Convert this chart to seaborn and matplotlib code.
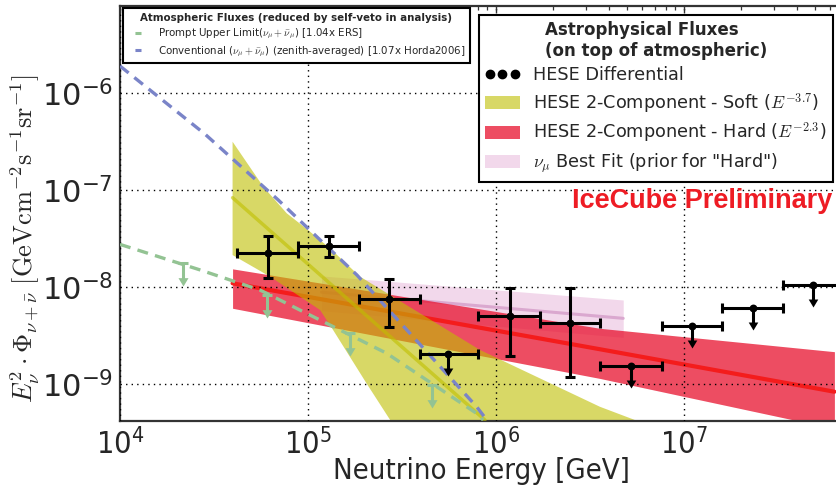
import numpy as np
import pandas as pd
import matplotlib
matplotlib.use("Agg")
import matplotlib.pyplot as plt
import seaborn as sns
from matplotlib.lines import Line2D
from matplotlib.patches import Patch
from matplotlib.path import Path
from matplotlib.font_manager import FontProperties

# ---------------- data ----------------
# HESE differential unfolding (energy bins in GeV, E^2 flux in GeV cm^-2 s^-1 sr^-1)
bin_lo = [4.18e4, 8.88e4, 1.86e5, 3.94e5, 8.05e5, 1.71e6, 3.57e6, 7.61e6, 1.59e7, 3.37e7]
bin_hi = [8.88e4, 1.86e5, 3.94e5, 8.05e5, 1.71e6, 3.57e6, 7.61e6, 1.59e7, 3.37e7, 7.08e7]
bin_center = [6.1e4, 1.29e5, 2.71e5, 5.57e5, 1.18e6, 2.48e6, 5.22e6, 1.10e7, 2.32e7, 4.88e7]
flux = [2.24e-8, 2.69e-8, 7.57e-9, 2.04e-9, 5.12e-9, 4.32e-9, 1.55e-9, 4.02e-9, 6.17e-9, 1.06e-8]
flux_hi = [3.40e-8, 3.40e-8, 1.22e-8, np.nan, 9.77e-9, 9.77e-9, np.nan, np.nan, np.nan, np.nan]
flux_lo = [1.24e-8, 2.07e-8, 3.87e-9, np.nan, 1.96e-9, 1.20e-9, np.nan, np.nan, np.nan, np.nan]
upper_limit = [False, False, False, True, False, False, True, True, True, True]

# Conventional atmospheric (blue dashed)
conv_E = [1.0e4, 2.83e4, 6.95e4, 1.82e5, 7.89e5, 8.93e5]
conv_flux = [1.91e-6, 3.80e-7, 7.94e-8, 1.34e-8, 5.87e-10, 4.29e-10]

# Prompt upper limit (green dashed) and its arrows
prompt_E = [1.0e4, 2.67e4, 5.56e4, 9.06e4, 2.62e5, 7.88e5, 8.55e5]
prompt_flux = [2.77e-8, 1.51e-8, 9.37e-9, 5.83e-9, 2.09e-9, 5.02e-10, 4.29e-10]
prompt_arrow_E = [2.16e4, 6.03e4, 1.67e5, 4.55e5]
prompt_arrow_flux = [1.77e-8, 8.34e-9, 3.36e-9, 9.84e-10]

# Soft component (E^-3.7) band and best fit
soft_up_E = [3.97e4, 5.78e4, 7.71e4, 1.00e5, 1.31e5, 1.89e5, 8.22e5, 3.57e6, 5.60e6]
soft_up_flux = [3.17e-7, 1.09e-7, 5.79e-8, 3.90e-8, 2.52e-8, 1.29e-8, 2.26e-9, 5.87e-10, 4.22e-10]
soft_lo_E = [3.97e4, 6.28e4, 1.16e5, 1.36e5, 2.05e5, 2.75e5]
soft_lo_flux = [2.15e-8, 1.29e-8, 5.83e-9, 3.63e-9, 1.02e-9, 4.22e-10]
soft_fit_E = [3.97e4, 8.73e5]
soft_fit_flux = [8.39e-8, 4.29e-10]

# Hard component (E^-2.3) band and best fit
hard_E = [3.97e4, 3.57e6, 6.31e7]
hard_up = [1.55e-8, 3.78e-9, 2.17e-9]
hard_fit = [1.10e-8, 2.30e-9, 8.39e-10]
hard_lo = [6.08e-9, 1.15e-9, 3.49e-10]

# nu_mu best fit band
numu_E = [1.18e5, 4.75e6]
numu_up = [1.31e-8, 7.40e-9]
numu_fit = [8.91e-9, 4.79e-9]
numu_lo = [5.75e-9, 3.05e-9]

x_ticks = [1e4, 1e5, 1e6, 1e7]
x_tick_labels = [r'$\mathdefault{10^{4}}$', r'$\mathdefault{10^{5}}$',
                 r'$\mathdefault{10^{6}}$', r'$\mathdefault{10^{7}}$']
y_ticks = [1e-9, 1e-8, 1e-7, 1e-6]

# ---------------- style ----------------
sns.set_style("white")
plt.rcParams['font.family'] = ['DejaVu Sans']

c_yellow = '#bfbf00'
c_red = '#e8112d'
c_pink = '#d67fbf'
c_blue = '#7a84c8'
c_green = '#93c393'

fig = plt.figure(figsize=(8.36, 4.94), dpi=100)
ax = fig.add_axes([120 / 836, 73.3 / 494, 752 / 836, 414.7 / 494])
ax.set_xscale('log')
ax.set_yscale('log')
ax.set_xlim(1e4, 1e8)
ax.set_ylim(10 ** -9.375, 10 ** -5.10)

# bands
ax.fill_between(numu_E, numu_lo, numu_up, color=c_pink, alpha=0.3, lw=0, zorder=1.0)
sns.lineplot(x=numu_E, y=numu_fit, ax=ax, color='#d49cc8', lw=2.2, alpha=0.8, zorder=1.05, estimator=None)
ax.fill_between(hard_E, hard_lo, hard_up, color=c_red, alpha=0.75, lw=0, zorder=1.1)
sns.lineplot(x=hard_E, y=hard_fit, ax=ax, color='#f41c1c', lw=3, zorder=1.15, estimator=None)
ax.fill(soft_up_E + soft_lo_E[::-1], soft_up_flux + soft_lo_flux[::-1],
        color=c_yellow, alpha=0.6, lw=0, zorder=1.2)
sns.lineplot(x=soft_fit_E, y=soft_fit_flux, ax=ax, color=c_yellow, alpha=0.6, lw=2.5,
             zorder=3.1, estimator=None)

# atmospheric
sns.lineplot(x=prompt_E, y=prompt_flux, ax=ax, color=c_green, lw=2.4,
             linestyle=(0, (3.3, 2.2)), zorder=3.3, estimator=None)
sns.lineplot(x=conv_E, y=conv_flux, ax=ax, color=c_blue, lw=2.4,
             linestyle=(0, (3.3, 2.2)), zorder=3.6, estimator=None)

arrow_marker = Path([(0, 0), (-0.6, 1.0), (0.6, 1.0), (0, 0)],
                    [Path.MOVETO, Path.LINETO, Path.LINETO, Path.CLOSEPOLY])

pa_E = np.array(prompt_arrow_E)
pa_f = np.array(prompt_arrow_flux)
pa_tip = pa_f * 10 ** -0.237
ax.vlines(pa_E, pa_tip * 10 ** 0.05, pa_f, colors=c_green, lw=2.2, zorder=3.4)
ax.plot(pa_E, pa_f, ls='none', marker='_', ms=7.5, mew=2.2, color=c_green, zorder=3.4)
ax.plot(pa_E, pa_tip, ls='none', marker=arrow_marker, ms=12, color=c_green, mew=0, zorder=3.4)

# HESE points
xc = np.array(bin_center)
lo = np.array(bin_lo)
hi = np.array(bin_hi)
f = np.array(flux)
fh = np.array(flux_hi)
fl = np.array(flux_lo)
ul = np.array(upper_limit)
m = ~ul
ax.errorbar(xc[m], f[m], xerr=[xc[m] - lo[m], hi[m] - xc[m]],
            yerr=[f[m] - fl[m], fh[m] - f[m]], fmt='none', ecolor='k',
            elinewidth=2.2, capsize=3.4, capthick=2.2, zorder=6)
ax.errorbar(xc[ul], f[ul], xerr=[xc[ul] - lo[ul], hi[ul] - xc[ul]], fmt='none',
            ecolor='k', elinewidth=2.2, capsize=3.4, capthick=2.2, zorder=6)
tips = f[ul] * 10 ** -0.227
ax.vlines(xc[ul], tips * 10 ** 0.05, f[ul], colors='k', lw=2.2, zorder=6)
ax.plot(xc[ul], tips, ls='none', marker=arrow_marker, ms=11.5, color='k', mew=0, zorder=6)
sns.scatterplot(x=xc, y=f, ax=ax, color='k', s=32, edgecolor='k', linewidth=0,
                zorder=7, legend=False)

# axes styling
ax.set_axisbelow(False)
ax.grid(True, which='major', color='k', ls=(0, (1, 3)), lw=1.0)
ax.grid(False, which='minor')
ax.set_xticks(x_ticks, labels=x_tick_labels, fontstretch='condensed', fontsize=22)
ax.set_yticks(y_ticks)
ax.tick_params(which='both', direction='in', top=True, right=True, color='#333333')
ax.tick_params(which='major', length=5, width=1.0, labelsize=22, pad=5)
ax.tick_params(which='minor', length=2.8, width=0.9)
for s in ax.spines.values():
    s.set_linewidth(1.6)
    s.set_color('#333333')
ax.set_xlabel('')
ax.set_ylabel('')

fig.text(481 / 836, 1 - 479 / 494, 'Neutrino Energy [GeV]', ha='center', va='baseline',
         fontsize=21, fontstretch='condensed')
fig.text(25 / 836, 1 - 239 / 494,
         r'$E_{\nu}^{2}\cdot\Phi_{\nu+\bar{\nu}}\ [\mathrm{GeV cm^{-2} s^{-1} sr^{-1}}]$',
         rotation=90, ha='center', va='center', fontsize=19, math_fontfamily='cm')

fig.text(832 / 836, 1 - 208 / 494, 'IceCube Preliminary', ha='right', va='baseline',
         fontsize=19.5, fontweight='bold', family='Liberation Sans', color='#ee1c24')

# legends
atm_handles = [Line2D([], [], color=c_green, lw=2.2, linestyle=(2.0, (2.0, 2.6))),
               Line2D([], [], color=c_blue, lw=2.2, linestyle=(2.0, (2.0, 2.6)))]
atm_labels = [r'Prompt Upper Limit($\nu_\mu+\bar{\nu}_\mu$) [1.04x ERS]',
              r'Conventional ($\nu_\mu+\bar{\nu}_\mu$) (zenith-averaged) [1.07x Horda2006]']
leg1 = ax.legend(atm_handles, atm_labels, loc='upper left',
                 bbox_to_anchor=(122.7 / 836, 1 - 8.3 / 494), bbox_transform=fig.transFigure,
                 borderaxespad=0, prop=FontProperties(size=7.4, math_fontfamily='cm'),
                 title='Atmospheric Fluxes (reduced by self-veto in analysis)',
                 title_fontproperties=FontProperties(size=7.4, weight='bold'),
                 handlelength=1.36, handletextpad=1.6, labelspacing=0.35,
                 borderpad=0.45, fancybox=False, framealpha=1, edgecolor='k')
leg1.get_frame().set_linewidth(1.5)
ax.add_artist(leg1)

astro_handles = [Line2D([], [], color='k', marker='o', ls='none', ms=6),
                 Patch(facecolor=c_yellow, alpha=0.6, edgecolor='none'),
                 Patch(facecolor=c_red, alpha=0.75, edgecolor='none'),
                 Patch(facecolor=c_pink, alpha=0.3, edgecolor='none')]
astro_labels = ['HESE Differential',
                r'HESE 2-Component - Soft ($E^{-3.7}$)',
                r'HESE 2-Component - Hard ($E^{-2.3}$)',
                r'$\nu_\mu$ Best Fit (prior for "Hard")']
leg2 = ax.legend(astro_handles, astro_labels, loc='upper right', numpoints=3,
                 bbox_to_anchor=(833 / 836, 1 - 15 / 494), bbox_transform=fig.transFigure,
                 borderaxespad=0, prop=FontProperties(size=12.7, math_fontfamily='cm'),
                 title='Astrophysical Fluxes\n(on top of atmospheric)',
                 title_fontproperties=FontProperties(size=12, weight='bold'),
                 handlelength=2.0, handletextpad=0.75, labelspacing=0.36,
                 borderpad=0.35, fancybox=False, framealpha=1, edgecolor='k')
leg2.get_frame().set_linewidth(1.5)

fig.savefig('out.png', dpi=100)
